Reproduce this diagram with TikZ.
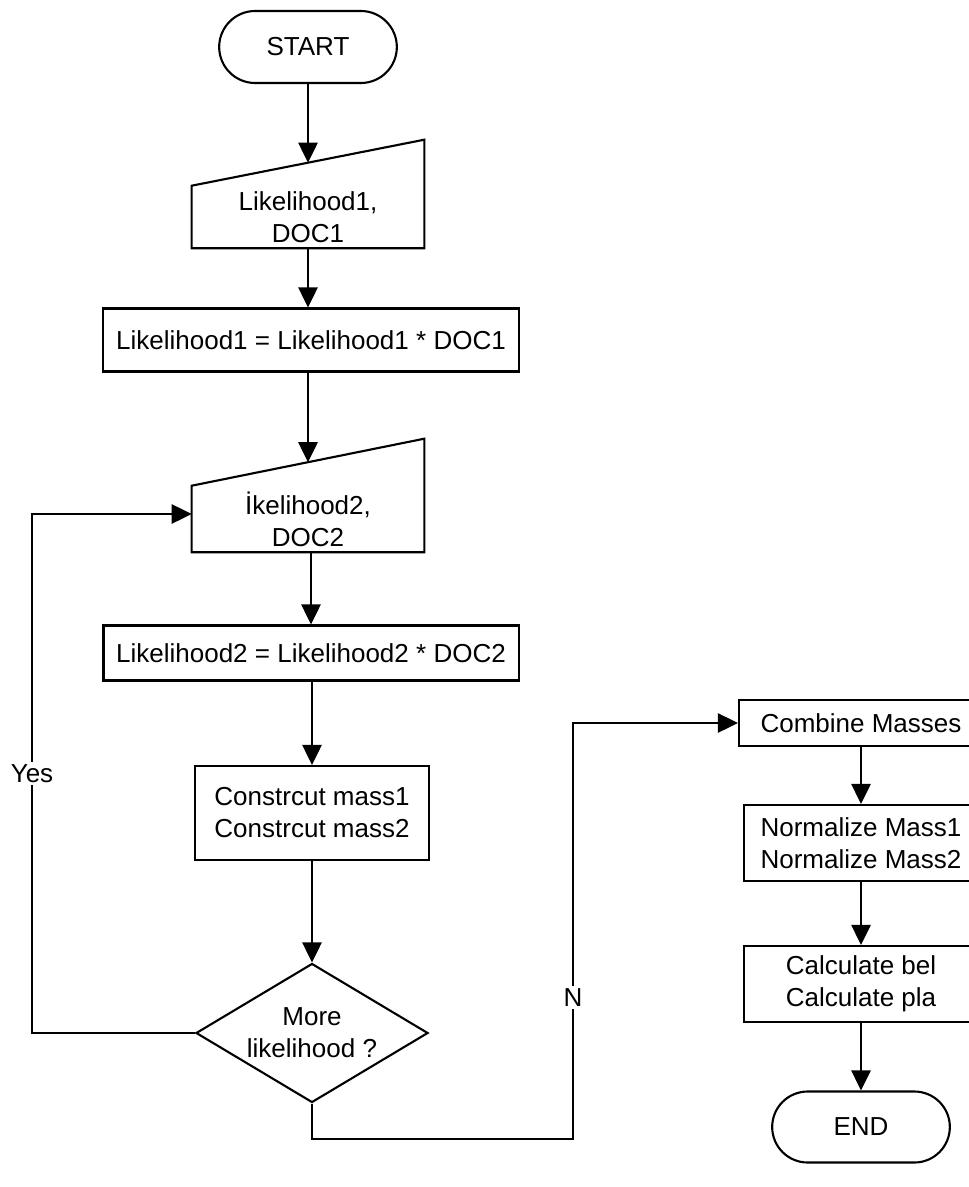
\documentclass[tikz,border=0pt]{standalone}
\usepackage{fontspec}
\setmainfont{Liberation Sans}
\usetikzlibrary{arrows.meta, positioning, shapes.geometric, shapes.misc, calc}

\begin{document}
\begin{tikzpicture}[x=0.025cm, y=-0.025cm,
        font=\fontsize{18.5}{22.8}\selectfont,
        term/.style={draw, rounded rectangle, line width=1.5pt, minimum width=4.675cm, minimum height=1.8cm},
        inbox/.style={rectangle, minimum width=5.8cm, align=center, inner sep=0pt},
        proc/.style={draw, rectangle, line width=1.5pt, align=center, inner sep=0pt},
        decision/.style={draw, diamond, aspect=1.67, line width=1.5pt, align=center, inner sep=0pt, minimum width=5.8cm, minimum height=3.475cm},
        arrow/.style={-{Triangle[length=0.5cm, width=0.48cm]}, line width=1.5pt},
        line/.style={line width=1.5pt},
        lbl/.style={fill=white, inner sep=2pt}
    ]
        \useasboundingbox (0,0) rectangle (968,1187);

        % --- main column ---
        \node[term] (start) at (308,47) {START};
        \node[inbox, minimum height=1.55cm] (in1) at (308,217) {Likelihood1,\\DOC1};
        \draw[line] (in1.south west) -- (in1.south east) -- ([yshift=1.15cm]in1.north east) -- (in1.north west) -- cycle;
        \node[proc, minimum width=10.4cm, minimum height=1.575cm] (lik1) at (311,340) {Likelihood1 = Likelihood1 * DOC1};
        \node[inbox, minimum height=1.65cm] (in2) at (308,519) {İkelihood2,\\DOC2};
        \draw[line] (in2.south west) -- (in2.south east) -- ([yshift=1.175cm]in2.north east) -- (in2.north west) -- cycle;
        \node[proc, minimum width=10.375cm, minimum height=1.375cm] (lik2) at (311,653) {Likelihood2 = Likelihood2 * DOC2};
        \node[proc, minimum width=5.85cm, minimum height=2.35cm] (mass) at (312,813) {Constrcut mass1\\Constrcut mass2};
        \node[decision] (more) at (312,1033) {More\\likelihood ?};

        % --- right column ---
        \node[proc, minimum width=6.1cm, minimum height=1.15cm] (comb) at (861,723) {Combine Masses};
        \node[proc, minimum width=5.85cm, minimum height=1.9cm] (norm) at (861,843) {Normalize Mass1\\Normalize Mass2};
        \node[proc, minimum width=5.85cm, minimum height=1.9cm] (calc) at (861,984) {Calculate bel\\Calculate pla};
        \node[term, minimum height=1.775cm] (end) at (861,1127) {END};

        % --- corners of the loops ---
        \coordinate (yescorner) at (32,1033);
        \coordinate (ncorner) at (573,1139);

        % --- arrows ---
        \draw[arrow] (start.south) -- ([yshift=0.575cm]in1.north);
        \draw[arrow] (in1.south) -- (in1.south |- lik1.north);
        \draw[arrow] (lik1.south -| in2) -- ([yshift=0.5875cm]in2.north);
        \draw[arrow] (in2.south -| lik2) -- (lik2.north);
        \draw[arrow] (lik2.south -| mass) -- (mass.north);
        \draw[arrow] (mass.south) -- (more.north);
        \draw[arrow] (comb.south) -- (norm.north);
        \draw[arrow] (norm.south) -- (calc.north);
        \draw[arrow] (calc.south) -- (end.north);

        % --- Yes loop back ---
        \draw[arrow] (more.west) -- (yescorner) |- ([yshift=0.125cm]in2.west) node[pos=0.25, lbl] {Yes};

        % --- N branch ---
        \draw[arrow] (more.south) |- (ncorner) |- (comb.west) node[pos=0.17, lbl] {N};

    \end{tikzpicture}
\end{document}
